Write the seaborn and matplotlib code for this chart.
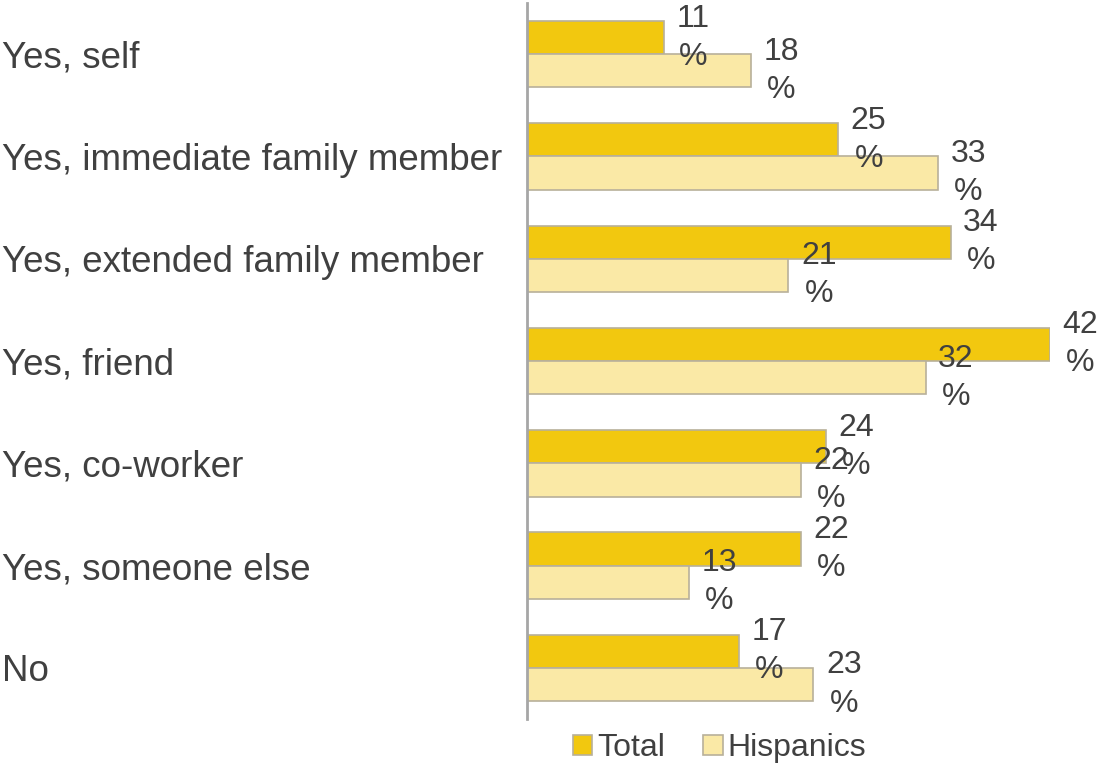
import matplotlib
matplotlib.use("Agg")
import matplotlib.pyplot as plt
import seaborn as sns
import pandas as pd
from matplotlib.patches import Patch

categories = [
    "Yes, self",
    "Yes, immediate family member",
    "Yes, extended family member",
    "Yes, friend",
    "Yes, co-worker",
    "Yes, someone else",
    "No",
]
total = [11, 25, 34, 42, 24, 22, 17]
hispanics = [18, 33, 21, 32, 22, 13, 23]
series = ["Total", "Hispanics"]

colors = {"Total": "#F2C80F", "Hispanics": "#FAE9A6"}
edge = "#B8B09A"
text_color = "#404040"

df = pd.DataFrame({
    "category": categories * 2,
    "value": total + hispanics,
    "series": [series[0]] * len(categories) + [series[1]] * len(categories),
})

sns.set_theme(style="white")
plt.rcParams["font.family"] = ["Liberation Sans", "DejaVu Sans"]

fig = plt.figure(figsize=(11.02, 7.69), dpi=100)
ax = fig.add_axes([0.478, 0.065, 0.953 - 0.478, 0.931])

sns.barplot(
    data=df, x="value", y="category", hue="series", orient="h",
    order=categories, hue_order=series, palette=colors, saturation=1,
    width=0.65, gap=0, edgecolor=edge, linewidth=1.2,
    legend=False, ax=ax,
)

ax.set_xlim(0, 42)
ax.set_xlabel("")
ax.set_ylabel("")
ax.set_xticks([])
for s in ["top", "right", "bottom"]:
    ax.spines[s].set_visible(False)
ax.spines["left"].set_color("#A6A6A6")
ax.spines["left"].set_linewidth(2)

ax.tick_params(axis="y", length=0, pad=378, labelsize=26.5, labelcolor=text_color)
for lab in ax.get_yticklabels():
    lab.set_ha("left")

for container in ax.containers:
    labels = [f"{v:.0f}\n%" for v in container.datavalues]
    ax.bar_label(container, labels=labels, padding=9, fontsize=23,
                 color=text_color, multialignment="center",
                 linespacing=1.35, clip_on=False)

handles = [Patch(facecolor=colors[s], edgecolor=edge, linewidth=1.2) for s in series]
fig.legend(handles, series, loc="center", bbox_to_anchor=(0.653, 0.027),
           ncol=2, frameon=False, fontsize=23, labelcolor=text_color,
           handlelength=0.6, handleheight=0.6, handletextpad=0.15,
           columnspacing=1.2)

fig.savefig("out.png", dpi=100)
